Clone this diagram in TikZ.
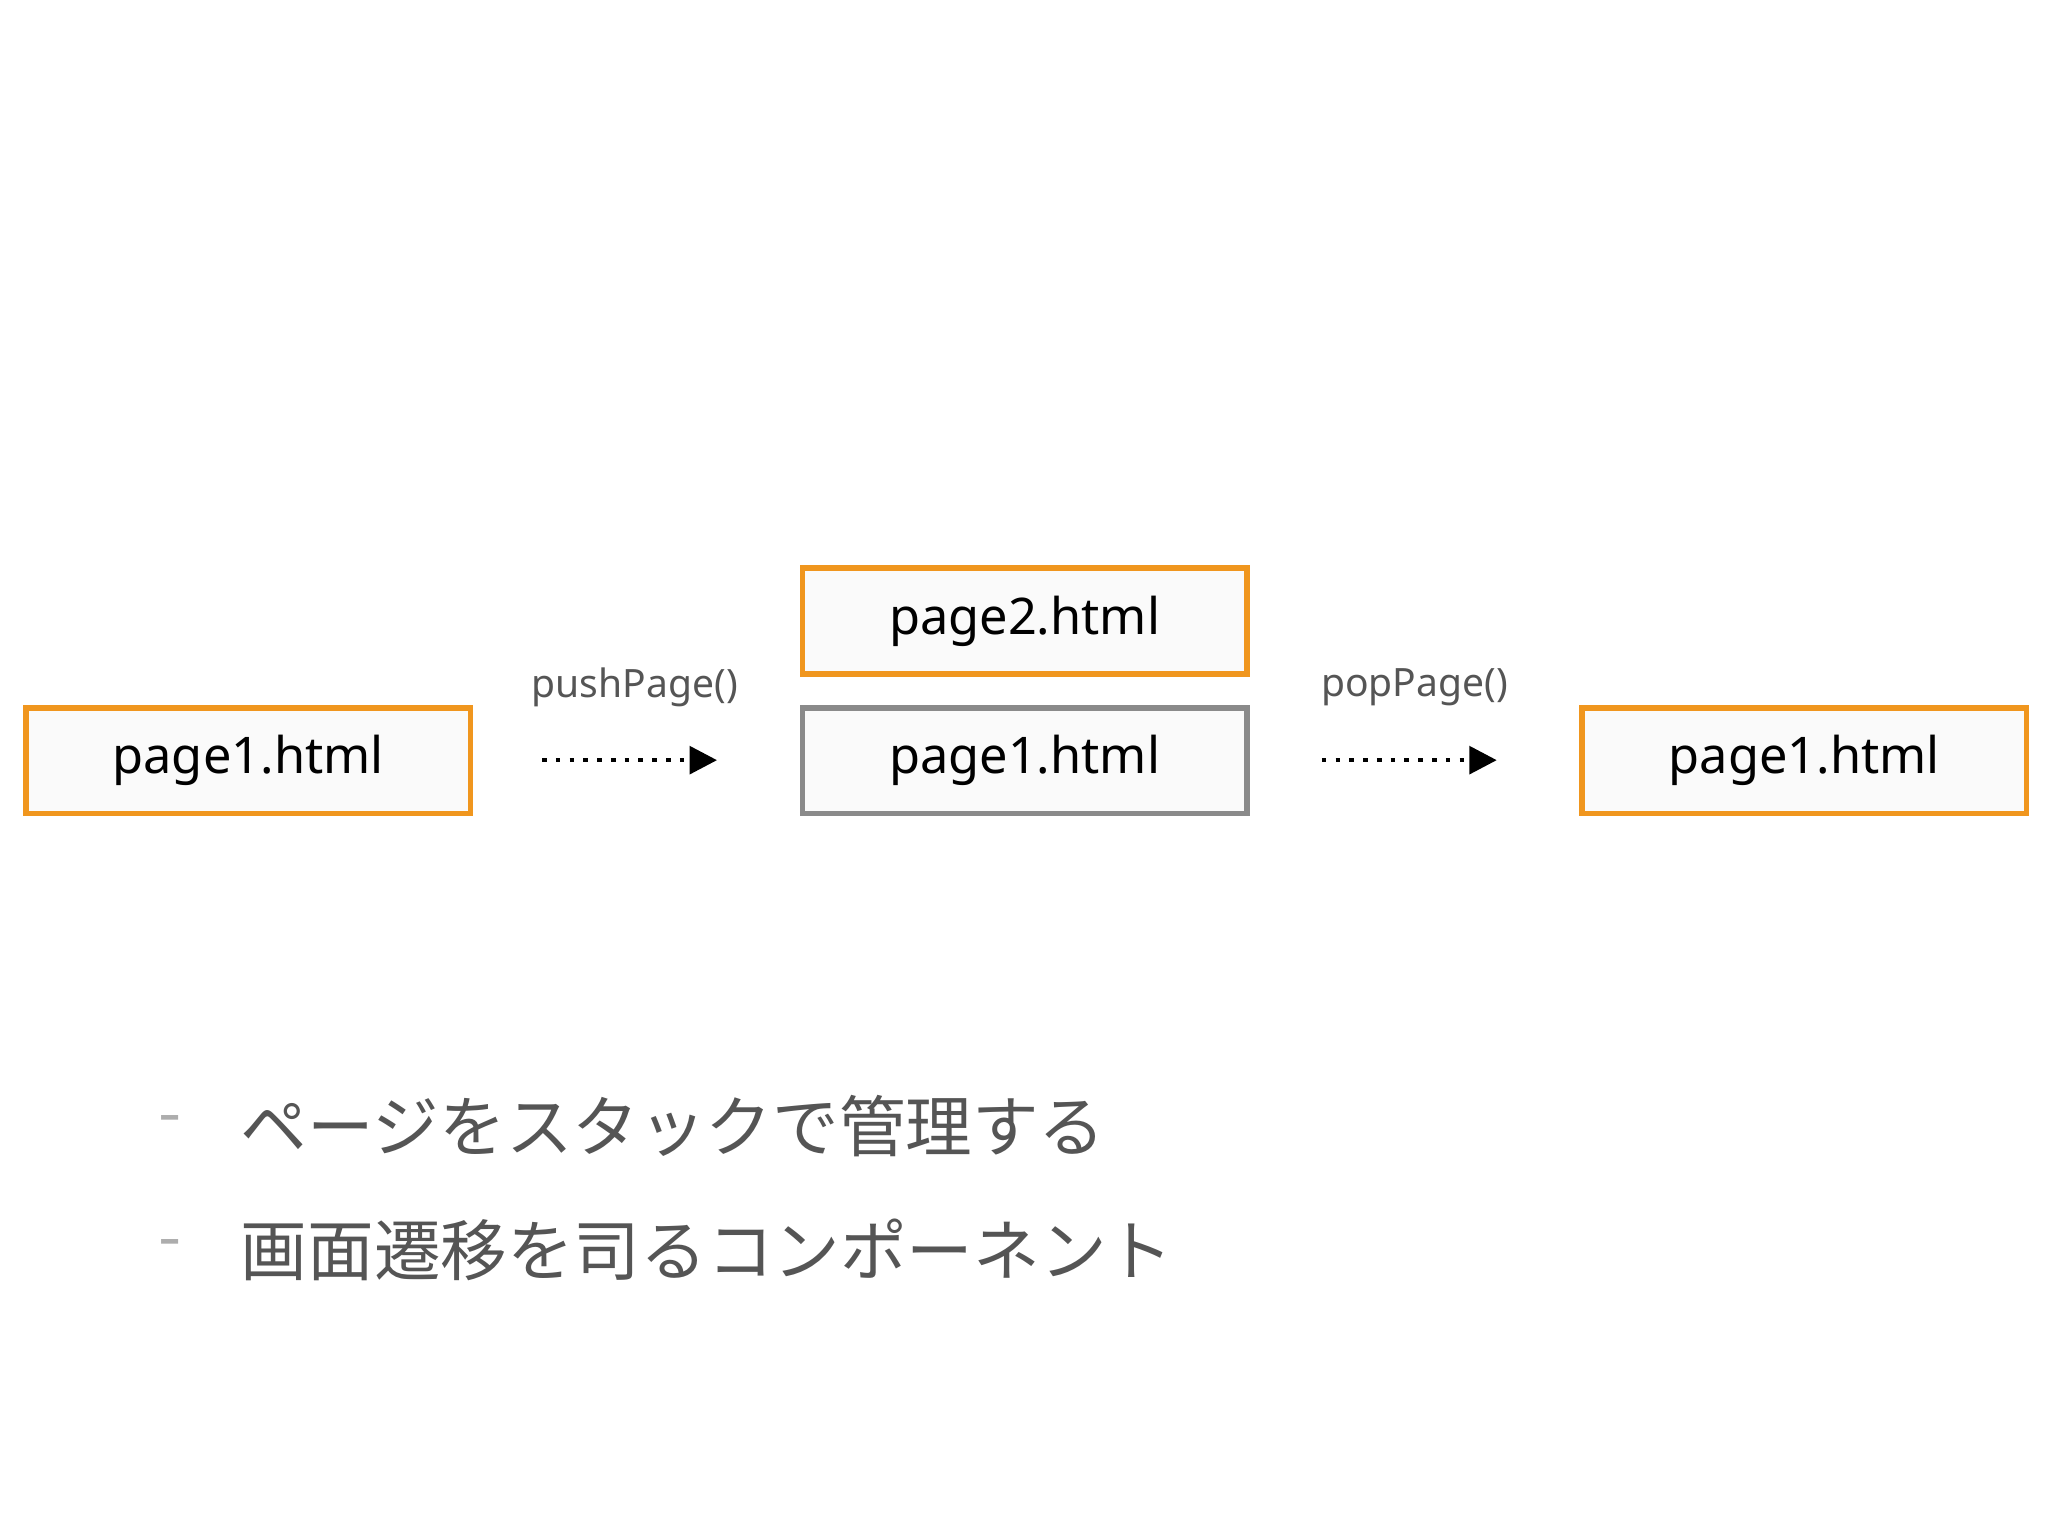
\documentclass[tikz,border=0pt]{standalone}
\usepackage{fontspec}
\setmainfont{Noto Sans}
\newfontfamily\cjk{Noto Sans CJK JP}
\usetikzlibrary{arrows.meta}
\definecolor{orng}{HTML}{F0961E}
\definecolor{gr}{HTML}{8A8A8A}
\definecolor{tx}{HTML}{555555}
\begin{document}
\begin{tikzpicture}[x=0.01cm,y=-0.01cm,
 pbox/.style={draw=orng,line width=1.2pt,fill=white!98!black,minimum width=3.4cm,minimum height=0.81cm,font=\fontsize{11}{13}\selectfont,inner sep=0pt},
 gbox/.style={pbox,draw=gr},
 lbl/.style={text=tx,font=\fontsize{8.5}{10}\selectfont},
 arr/.style={line width=1pt,dotted,-{Triangle[length=6pt,width=6pt]}},
 bl/.style={anchor=west,text=tx,font=\cjk\fontsize{14.5}{17}\selectfont}]
\useasboundingbox (0,0) rectangle (1568,1176);
\node[pbox] (a) at (190,582.5) {page1.html};
\node[pbox] (b2) at (784.5,475.5) {page2.html};
\node[gbox] (b1) at (784.5,582.5) {page1.html};
\node[pbox] (c) at (1381.5,582.5) {page1.html};
\coordinate (p1) at (415,582); \coordinate (p2) at (549,582);
\coordinate (q1) at (1012,582); \coordinate (q2) at (1146,582);
\draw[arr] (p1) -- (p2);
\draw[arr] (q1) -- (q2);
\node[lbl] (lp) at (486,526) {pushPage()};
\node[lbl] (lq) at (1083,526) {popPage()};
\node[text=gr!70,font=\cjk\fontsize{14.5}{17}\selectfont] (d1) at (130,862) {-};
\node[text=gr!70,font=\cjk\fontsize{14.5}{17}\selectfont] (d2) at (130,957) {-};
\node[bl] (t1) at (172,862) {ページをスタックで管理する};
\node[bl] (t2) at (172,957) {画面遷移を司るコンポーネント};
\end{tikzpicture}
\end{document}
